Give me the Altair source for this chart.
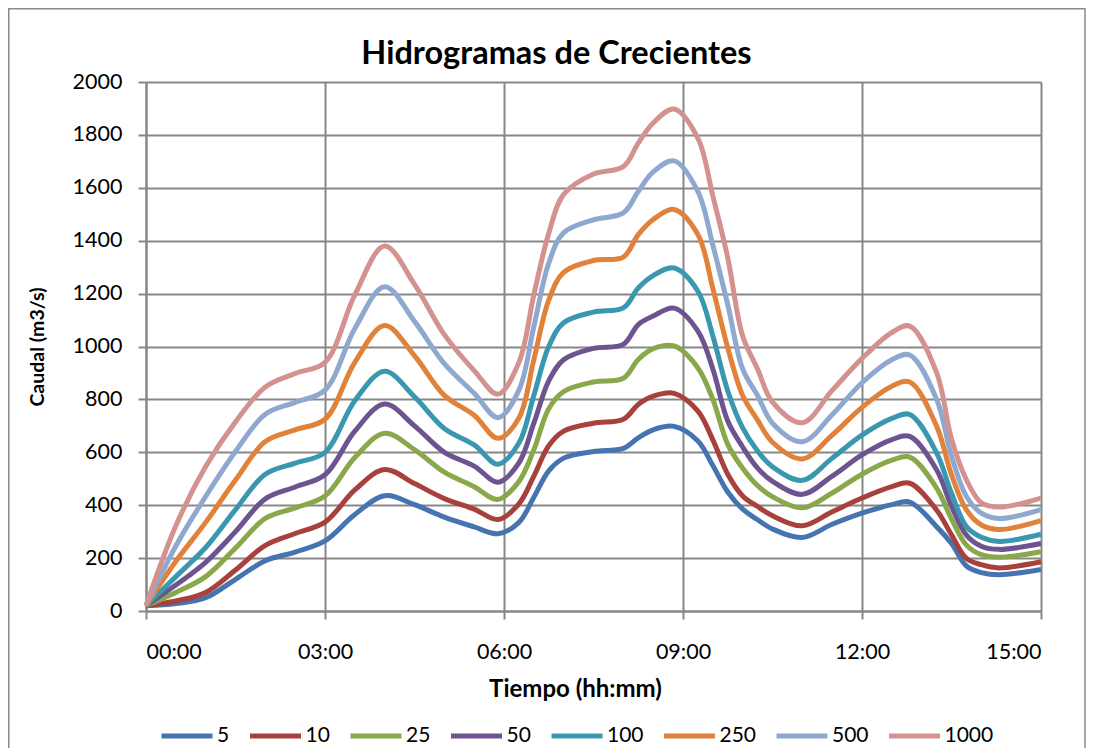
import altair as alt
import pandas as pd

# Time stamps (hh:mm) of the read points
tiempo = ["00:00", "00:30", "01:00", "01:30", "02:00", "02:30", "03:00", "03:30",
          "04:00", "04:30", "05:00", "05:30", "05:54", "06:15", "06:30", "06:45",
          "07:00", "07:30", "08:00", "08:15", "08:30", "08:51", "09:15", "09:30",
          "09:45", "10:00", "10:15", "10:30", "11:00", "11:30", "12:00", "12:30",
          "12:48", "13:15", "13:30", "13:45", "14:00", "14:18", "15:00"]

# Caudal (m3/s) per return period
q5 = [20, 28, 50, 120, 190, 223, 265, 365, 436, 402, 355, 318, 292, 335, 430, 530,
      578, 603, 615, 655, 685, 698, 643, 550, 450, 385, 345, 310, 278, 328, 370, 402,
      412, 319, 255, 170, 145, 137, 157]
q10 = [20, 38, 70, 155, 248, 293, 336, 458, 535, 482, 425, 385, 346, 405, 510, 625,
       680, 710, 725, 781, 812, 823, 756, 647, 517, 435, 395, 360, 322, 375, 427, 470,
       483, 382, 288, 199, 175, 163, 186]
q25 = [20, 70, 130, 238, 350, 390, 435, 580, 672, 610, 525, 470, 422, 490, 610, 765,
       830, 866, 880, 951, 992, 1002, 919, 800, 630, 540, 474, 432, 390, 446, 517, 570,
       582, 465, 348, 249, 213, 203, 224]
q50 = [20, 98, 184, 300, 424, 469, 515, 680, 783, 700, 600, 548, 487, 560, 710, 870,
       950, 993, 1008, 1083, 1115, 1145, 1058, 915, 718, 620, 540, 490, 441, 510, 590,
       648, 660, 534, 396, 287, 245, 233, 255]
q100 = [20, 130, 240, 383, 517, 559, 600, 795, 906, 810, 690, 628, 555, 635, 815, 1000,
        1090, 1130, 1146, 1221, 1268, 1297, 1209, 1040, 832, 692, 605, 545, 494, 578,
        665, 728, 743, 598, 445, 319, 279, 263, 290]
q250 = [20, 188, 335, 495, 641, 685, 725, 940, 1079, 965, 815, 740, 653, 730, 950, 1175,
        1280, 1325, 1338, 1423, 1480, 1518, 1423, 1220, 995, 815, 722, 638, 575, 665,
        770, 850, 866, 699, 515, 382, 325, 308, 342]
q500 = [20, 246, 433, 603, 744, 789, 835, 1068, 1226, 1095, 935, 823, 731, 835, 1075,
        1315, 1430, 1479, 1505, 1586, 1660, 1702, 1586, 1383, 1158, 915, 815, 710, 640,
        742, 863, 950, 968, 800, 585, 433, 370, 350, 383]
q1000 = [20, 322, 546, 715, 847, 898, 940, 1195, 1380, 1235, 1045, 909, 820, 940, 1195,
         1428, 1575, 1652, 1680, 1769, 1845, 1898, 1787, 1569, 1335, 1040, 915, 790, 712,
         834, 955, 1053, 1077, 901, 650, 496, 409, 393, 427]

series_names = ["5", "10", "25", "50", "100", "250", "500", "1000"]
series_vals = [q5, q10, q25, q50, q100, q250, q500, q1000]
colores = ["#4674B0", "#A8403C", "#89A84A", "#6D5490", "#3A97B0", "#E0823A",
           "#8EA8CF", "#D39290"]
x_ticks = [0, 3, 6, 9, 12, 15]
y_ticks = list(range(0, 2001, 200))


def to_hours(s):
    h, m = s.split(":")
    return int(h) + int(m) / 60.0


rows = []
for name, vals in zip(series_names, series_vals):
    for t, v in zip(tiempo, vals):
        rows.append({"horas": to_hours(t), "tiempo": t, "caudal": v, "serie": name})
df = pd.DataFrame(rows)

FONT = "Lato"
GRID = "#878787"

lines = alt.Chart(df).mark_line(interpolate="catmull-rom", strokeWidth=5).encode(
    x=alt.X(
        "horas:Q",
        scale=alt.Scale(domain=[0, 15], nice=False),
        axis=alt.Axis(
            values=x_ticks,
            labelExpr="(datum.value < 10 ? '0' : '') + datum.value + ':00'",
            title="Tiempo (hh:mm)",
            titleX=429,
            titleFontSize=24,
            labelPadding=22,
            titlePadding=15,
        ),
    ),
    y=alt.Y(
        "caudal:Q",
        scale=alt.Scale(domain=[0, 2000], nice=False),
        axis=alt.Axis(
            values=y_ticks,
            format="d",
            title="Caudal (m3/s)",
            titleFontSize=19.5,
            labelPadding=16,
            titlePadding=25,
        ),
    ),
    color=alt.Color(
        "serie:N",
        sort=series_names,
        scale=alt.Scale(domain=series_names, range=colores),
        legend=alt.Legend(
            title=None,
            orient="none",
            direction="horizontal",
            legendX=13,
            legendY=626,
            symbolType="stroke",
            symbolSize=2601,
            symbolStrokeWidth=5,
            labelFont=FONT,
            labelFontSize=21,
            labelColor="black",
            labelOffset=2,
            columnPadding=9.5,
        ),
    ),
    order=alt.Order("horas:Q"),
)

frame = alt.Chart(alt.Data(values=[{"a": 1}])).mark_rect(
    fillOpacity=0, stroke="#8a8a8a", strokeWidth=1.5
).encode(
    x=alt.value(-137.25), x2=alt.value(939), y=alt.value(-73.25), y2=alt.value(700)
)

chart = alt.layer(frame, lines).properties(
    width=895,
    height=529,
    title=alt.Title(
        "Hidrogramas de Crecientes",
        font=FONT,
        fontSize=32.5,
        fontWeight="bold",
        color="black",
        anchor="middle",
        frame="group",
        dx=-37,
        dy=62,
        offset=0,
    ),
    autosize=alt.AutoSizeParams(type="none"),
    padding={"left": 138, "top": 74, "right": 45, "bottom": 137},
).configure_axis(
    gridColor=GRID,
    gridWidth=2,
    gridOpacity=1,
    domainColor=GRID,
    domainWidth=2,
    tickColor=GRID,
    tickWidth=2,
    tickSize=8,
    labelFont=FONT,
    labelFontSize=21.5,
    labelColor="black",
    titleFont=FONT,
    titleFontWeight="bold",
    titleColor="black",
).configure_view(strokeWidth=0)

chart.save("out.html", embed_options={"renderer": "svg", "actions": False})
